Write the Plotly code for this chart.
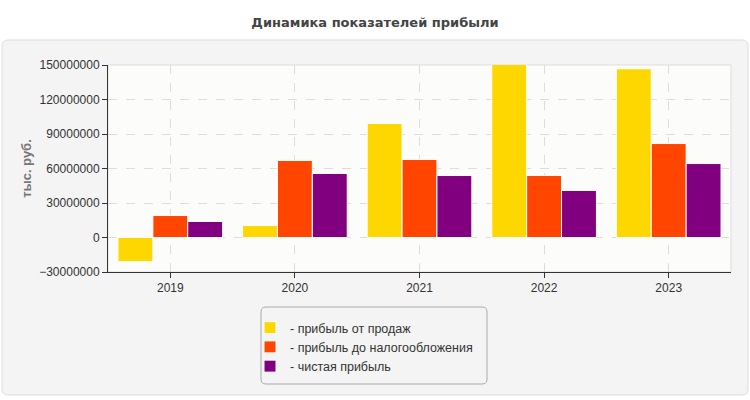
import plotly.graph_objects as go

years = ['2019', '2020', '2021', '2022', '2023']
sales_profit = [-21000000, 10400000, 99100000, 151000000, 146700000]
pretax_profit = [19100000, 67000000, 67800000, 53900000, 81700000]
net_profit = [13900000, 55700000, 53900000, 40900000, 64300000]

names = ['- прибыль от продаж', '- прибыль до налогообложения', '- чистая прибыль']
colors = ['#FFD700', '#FF4500', '#800080']
series = [sales_profit, pretax_profit, net_profit]

fig = go.Figure()
for name, color, values in zip(names, colors, series):
    fig.add_trace(go.Bar(x=years, y=values, name=name,
                         marker=dict(color=color, line=dict(color='white', width=1))))

# plot area is 108..731 x 65..272 px; paper coords for the outer panel
L, R, T, B = 108, 19, 65, 128
pw, ph = 750 - L - R, 400 - T - B
px = lambda v: (v - L) / pw
py = lambda v: (400 - B - v) / ph

def rounded(x0, y0, x1, y1, r=6):
    # rounded rect in pixel space -> svg path in paper coords
    pts = 'M {},{} L {},{} Q {},{} {},{} L {},{} Q {},{} {},{} L {},{} Q {},{} {},{} L {},{} Q {},{} {},{} Z'
    return pts.format(
        px(x0 + r), py(y0), px(x1 - r), py(y0), px(x1), py(y0), px(x1), py(y0 + r),
        px(x1), py(y1 - r), px(x1), py(y1), px(x1 - r), py(y1),
        px(x0 + r), py(y1), px(x0), py(y1), px(x0), py(y1 - r),
        px(x0), py(y0 + r), px(x0), py(y0), px(x0 + r), py(y0))

fig.add_shape(type='path', path=rounded(2, 40, 748, 395), xref='paper', yref='paper',
              fillcolor='#f4f4f4', line=dict(color='#dddddd', width=1), layer='below')
fig.add_shape(type='rect', x0=0, x1=1, y0=0, y1=1, xref='paper', yref='paper',
              fillcolor='#fcfcfa', line=dict(color='#dddddd', width=1), layer='below')
fig.add_shape(type='path', path=rounded(261, 307, 487, 384, 5), xref='paper', yref='paper',
              fillcolor='#f4f4f4', line=dict(color='#aaaaaa', width=1), layer='below')

fig.update_layout(
    width=750, height=400,
    margin=dict(l=L, r=R, t=T, b=B, autoexpand=False),
    paper_bgcolor='white', plot_bgcolor='rgba(0,0,0,0)',
    font=dict(family='Liberation Sans, Arial, sans-serif', size=12, color='#333333'),
    title=dict(text='<b>Динамика показателей прибыли</b>', x=0.5, xref='container',
               y=1 - 22 / 400, yref='container', yanchor='middle',
               font=dict(family='DejaVu Sans, sans-serif', size=13, color='#444444')),
    barmode='group', bargap=0.16, bargroupgap=0,
    showlegend=True,
    legend=dict(x=px(250), y=py(313), xanchor='left', yanchor='top',
                bgcolor='rgba(0,0,0,0)', borderwidth=0,
                font=dict(size=12.5, color='#333333'), tracegroupgap=0,
                itemwidth=30),
)
fig.update_xaxes(showline=True, linecolor='#333333', linewidth=1, automargin=False,
                 ticks='outside', ticklen=5, tickcolor='#333333',
                 showgrid=True, gridcolor='#dddddd', griddash='dash')
fig.update_yaxes(range=[-30000000, 150000000], dtick=30000000, tickformat='d',
                 showline=True, linecolor='#333333', linewidth=1, automargin=False,
                 ticks='outside', ticklen=5, tickcolor='#333333',
                 showgrid=True, gridcolor='#dddddd', griddash='dash', zeroline=False,
                 title=dict(text='<b>тыс. руб.</b>', font=dict(size=13, color='#777777'),
                            standoff=4))

fig.write_html("out.html", config={'displayModeBar': False},
               post_script="document.body.style.margin = '0';")
